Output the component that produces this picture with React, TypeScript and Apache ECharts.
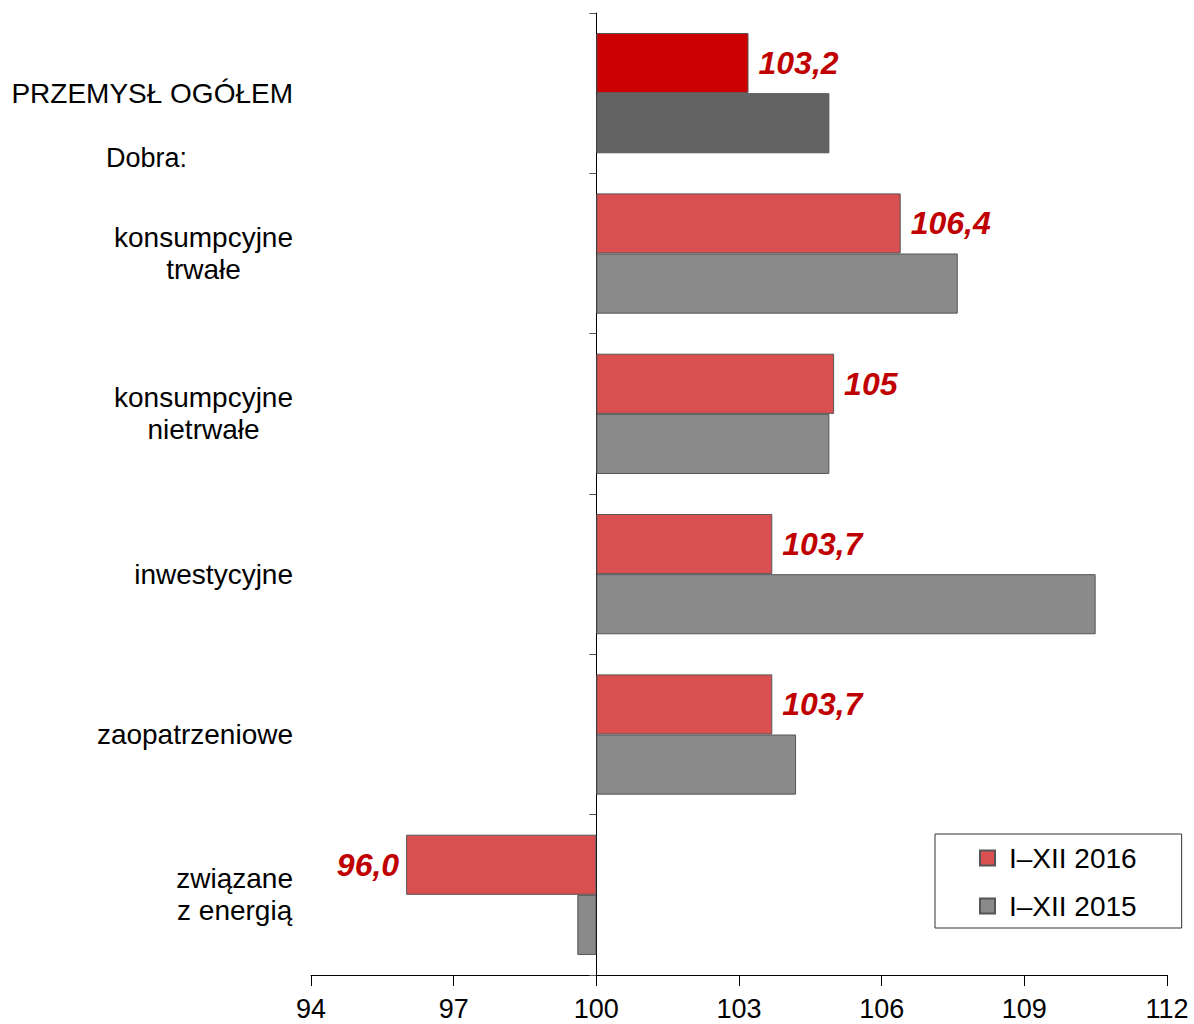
import React, { useEffect, useRef } from "react";
import * as echarts from "echarts";

const categories = [
  "PRZEMYSŁ OGÓŁEM",
  "konsumpcyjne\ntrwałe",
  "konsumpcyjne\nnietrwałe",
  "inwestycyjne",
  "zaopatrzeniowe",
  "związane\nz energią",
];
const values2016 = [103.2, 106.4, 105.0, 103.7, 103.7, 96.0];
const values2015 = [104.9, 107.6, 104.9, 110.5, 104.2, 99.6];
const labels2016 = ["103,2", "106,4", "105", "103,7", "103,7", "96,0"];
const seriesNames = ["I–XII 2016", "I–XII 2015"];
const baseValue = 100;
const axisMin = 94;
const axisMax = 112;
const axisStep = 3;

const FONT = "'Liberation Sans', Arial, sans-serif";

export default function App() {
  const ref = useRef<HTMLDivElement>(null);
  useEffect(() => {
    if (!ref.current) return;
    const chart = echarts.init(ref.current, undefined, { renderer: "svg" });

    const data16 = values2016.map((v, i) => {
      const item: any = {
        value: +(v - baseValue).toFixed(2),
        label: {
          position: v < baseValue ? "left" : "right",
          distance: v < baseValue ? 7 : 10,
        },
      };
      if (i === 0) item.itemStyle = { color: "#cc0000" };
      return item;
    });
    const data15 = values2015.map((v, i) => {
      const item: any = { value: +(v - baseValue).toFixed(2) };
      if (i === 0) item.itemStyle = { color: "#636363" };
      return item;
    });

    chart.setOption({
      animation: false,
      textStyle: { fontFamily: FONT },
      grid: {
        left: 311,
        right: 27,
        top: 13,
        bottom: 49,
        containLabel: false,
        outerBoundsMode: "none",
      },
      xAxis: {
        type: "value",
        min: axisMin - baseValue,
        max: axisMax - baseValue,
        interval: axisStep,
        axisLine: { show: true, lineStyle: { color: "#000", width: 1 } },
        axisTick: { show: true, length: 11, lineStyle: { color: "#000" } },
        splitLine: { show: false },
        axisLabel: {
          formatter: (v: number) => String(Math.round(v + baseValue)),
          fontSize: 27,
          color: "#000",
          fontFamily: FONT,
          margin: 20,
        },
      },
      yAxis: {
        type: "category",
        data: categories,
        inverse: true,
        axisLine: { show: true, onZero: true, lineStyle: { color: "#000", width: 1 } },
        axisTick: { show: true, length: 7, lineStyle: { color: "#555" } },
        axisLabel: {
          margin: 18,
          color: "#000",
          fontSize: 28,
          fontFamily: FONT,
          formatter: (s: string) =>
            s
              .split("\n")
              .map((l) => "{c|" + l + "}")
              .join("\n"),
          rich: {
            c: {
              align: "center",
              fontSize: 28,
              lineHeight: 32,
              fontFamily: FONT,
              color: "#000",
            },
          },
        },
      },
      legend: {
        data: seriesNames,
        orient: "vertical",
        left: 935,
        top: 834,
        padding: [10, 45, 8, 44],
        itemGap: 20,
        itemWidth: 15,
        itemHeight: 15,
        borderColor: "#333",
        borderWidth: 1,
        backgroundColor: "#fff",
        selectedMode: false,
        icon: "rect",
        textStyle: {
          fontSize: 28,
          lineHeight: 28,
          color: "#000",
          fontFamily: FONT,
          padding: [0, 0, 0, 9],
        },
      },
      graphic: [
        {
          type: "text",
          left: 106,
          top: 144,
          style: { text: "Dobra:", fontSize: 27, fill: "#000", fontFamily: FONT },
        },
      ],
      series: [
        {
          name: seriesNames[0],
          type: "bar",
          data: data16,
          barGap: "0%",
          barCategoryGap: "25%",
          itemStyle: { color: "#da5050", borderColor: "#555", borderWidth: 1 },
          label: {
            show: true,
            formatter: (p: any) => labels2016[p.dataIndex],
            color: "#c00000",
            fontSize: 32,
            fontWeight: "bold",
            fontStyle: "italic",
            fontFamily: FONT,
          },
        },
        {
          name: seriesNames[1],
          type: "bar",
          data: data15,
          barGap: "0%",
          barCategoryGap: "25%",
          itemStyle: { color: "#8a8a8a", borderColor: "#555", borderWidth: 1 },
        },
      ],
    });
    return () => chart.dispose();
  }, []);
  return (
    <div
      ref={ref}
      style={{ position: "absolute", left: 0, top: 0, width: 1194, height: 1024 }}
    />
  );
}
